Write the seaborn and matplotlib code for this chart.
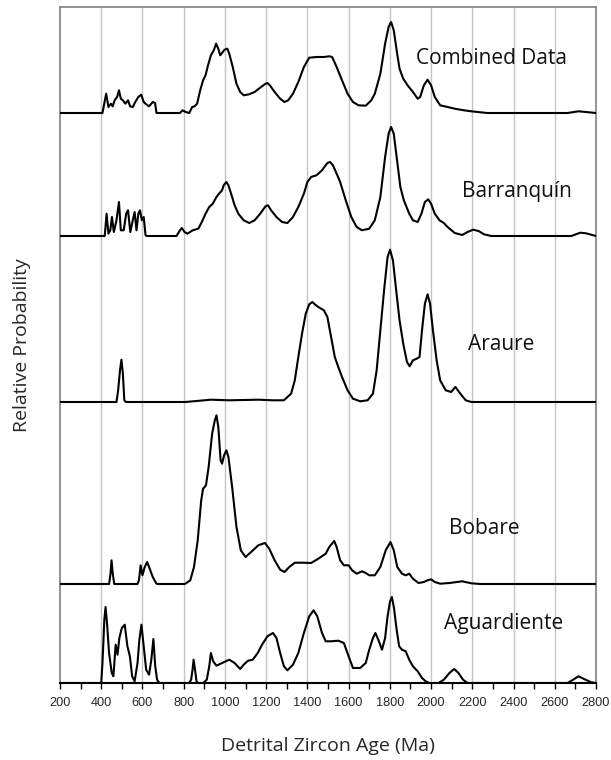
import matplotlib
matplotlib.use("Agg")
import matplotlib.pyplot as plt
from matplotlib.ticker import MultipleLocator
import pandas as pd
import seaborn as sns

# probability curves (age in Ma, relative height)
combined_age = [200, 406, 424, 435, 447, 456, 465, 477, 486, 495, 505, 517, 530, 540, 553, 565, 580, 594, 606, 618,
                632, 650, 661, 668, 782, 795, 809, 827, 841, 853, 865, 880, 894, 906, 918, 932, 946, 957, 968, 977,
                986, 998, 1012, 1021, 1038, 1056, 1074, 1091, 1118, 1144, 1171, 1197, 1206, 1218, 1241, 1268, 1289,
                1307, 1330, 1356, 1383, 1409, 1444, 1480, 1506, 1520, 1542, 1568, 1595, 1621, 1648, 1683, 1710, 1727,
                1754, 1777, 1794, 1806, 1819, 1833, 1847, 1865, 1886, 1912, 1935, 1947, 1965, 1983, 2000, 2018, 2044,
                2080, 2115, 2159, 2195, 2239, 2274, 2662, 2715, 2751, 2800]
combined_prob = [0, 0, 19.3, 6, 9.3, 6.7, 12.7, 16, 22.7, 14.3, 12.7, 9.3, 12.7, 6.7, 6, 11, 16, 18.3, 11, 8.7,
                 6.7, 11, 10, 0, 0, 2.7, 1, 0, 6, 6.7, 9.3, 22.7, 32.7, 37.7, 47.7, 57.7, 62.7, 69.3, 64.3, 57.7,
                 60, 63.3, 64.3, 59.3, 46, 29.3, 21, 17.7, 18.7, 21, 25.3, 29.3, 30, 27.7, 21, 14.3, 11,
                 12.7, 19.3, 31, 46, 55.3, 56, 56, 56.7, 56, 46, 32.7, 19.3, 11, 7.7, 7.3, 12.7, 19.3,
                 39.3, 69.3, 86, 91, 82.7, 62.7, 44.3, 34.3, 27.7, 21, 14.3, 16, 27.7, 33.3, 27.7, 16, 7.7,
                 6, 4.3, 2.7, 1.7, 0.7, 0, 0, 1.7, 1, 0]

barranquin_age = [200, 412, 417, 426, 435, 444, 452, 461, 474, 486, 495, 509, 521, 530, 541, 553, 562, 571, 580, 588,
                  597, 606, 615, 620, 765, 782, 791, 804, 818, 844, 871, 888, 906, 924, 941, 959, 971, 986, 994, 1007,
                  1017, 1030, 1047, 1065, 1091, 1118, 1144, 1171, 1197, 1209, 1224, 1250, 1277, 1303, 1330, 1356, 1383,
                  1400, 1418, 1444, 1471, 1497, 1510, 1524, 1542, 1559, 1586, 1613, 1639, 1665, 1700, 1727, 1754, 1777,
                  1794, 1806, 1819, 1833, 1851, 1868, 1894, 1912, 1935, 1953, 1970, 1986, 2000, 2018, 2041, 2062, 2080,
                  2115, 2151, 2177, 2204, 2230, 2257, 2292, 2680, 2724, 2751, 2800]
barranquin_prob = [0, 0, 0, 22.3, 2.3, 5.7, 19, 4, 15.7, 34, 5.7, 5.7, 22.3, 25.7, 4, 15.7, 24, 5.7, 22.3, 25.7,
                   15.7, 19, 0.7, 0, 0, 5.7, 8, 4, 2.3, 5.7, 7.3, 14, 22.3, 29, 32.3, 39, 42.3, 45.7, 50.7, 54,
                   50.7, 42.3, 30.7, 22.3, 15.7, 13, 15.7, 22.3, 29.7, 30.7, 25.7, 19, 14, 13, 19, 29, 42.3,
                   54, 59, 60.7, 65.7, 73, 74, 70.7, 62.3, 54, 35.7, 19, 9, 5.7, 7.3, 15.7, 39, 79,
                   102.3, 109, 102.3, 79, 49, 35.7, 22.3, 15.7, 14, 22.3, 34, 36.7, 32.3, 22.3, 15.7, 13, 9,
                   3, 1, 4, 6.3, 5, 1.7, 0, 0, 3.3, 2.7, 0]

araure_age = [200, 474, 482, 491, 498, 505, 512, 520, 809, 862, 932, 1021, 1162, 1232, 1286, 1321, 1339, 1356, 1374,
              1392, 1409, 1424, 1436, 1453, 1480, 1497, 1515, 1533, 1550, 1568, 1595, 1621, 1656, 1692, 1718, 1736,
              1754, 1772, 1789, 1801, 1815, 1829, 1847, 1865, 1883, 1896, 1912, 1930, 1944, 1956, 1970, 1983, 1995,
              2009, 2027, 2044, 2071, 2097, 2118, 2142, 2168, 2195, 2800]
araure_prob = [0, 0, 11.7, 31.7, 42.3, 28.3, 1.7, 0, 0, 1, 2.3, 1.7, 2.3, 1.7, 1.7, 8.3, 21.7, 45, 68.3,
               88.3, 97.7, 100, 97.7, 95, 91.7, 85, 65, 45, 35, 25, 11.7, 3.3, 0.7, 1.7, 8.3, 31.7,
               71.7, 111.7, 145, 152.3, 141.7, 115, 81.7, 58.3, 40, 35.7, 41.7, 43.3, 45, 71.7, 98.3, 107.7, 98.3,
               71.7, 41.7, 21.7, 11.7, 10, 15, 8.3, 1.7, 0, 0]

bobare_age = [200, 438, 445, 450, 456, 463, 576, 583, 591, 600, 611, 623, 632, 650, 668, 676, 806, 832, 850, 868,
              885, 894, 908, 921, 938, 951, 959, 968, 979, 986, 996, 1007, 1017, 1035, 1056, 1077, 1100, 1127, 1162,
              1194, 1215, 1241, 1268, 1289, 1312, 1339, 1374, 1418, 1453, 1489, 1506, 1530, 1542, 1559, 1577, 1600,
              1617, 1639, 1665, 1683, 1700, 1727, 1754, 1780, 1803, 1819, 1836, 1859, 1877, 1894, 1912, 1939, 1965,
              1983, 2000, 2018, 2044, 2089, 2151, 2195, 2239, 2800]
bobare_prob = [0, 0, 10.3, 23.7, 10.3, 0, 0, 3.7, 18.7, 8.7, 17, 22, 17, 7, 0.3, 0, 0, 3.7, 17, 43.7,
               83.7, 95.3, 98.7, 117, 150.3, 163.7, 168.7, 157, 123.7, 120.3, 128.7, 133.7, 127, 97, 57, 33.7, 27, 32, 38.7,
               41, 35.3, 23.7, 14.3, 12, 17, 21.3, 21.3, 21, 25.3, 30.3, 37, 43, 37, 23.7, 18.7, 18.7,
               13.7, 10.3, 12.7, 11, 8.7, 8.7, 17, 33.7, 42, 33.7, 17, 10.3, 8.7, 10.3, 5.3, 1, 2,
               3.7, 4.7, 2, 0.3, 1, 2.7, 0.7, 0, 0]

aguardiente_age = [200, 400, 406, 415, 421, 428, 438, 451, 459, 470, 479, 488, 500, 514, 527, 539, 550, 562, 576, 585,
                   595, 606, 618, 632, 643, 653, 662, 671, 682, 827, 836, 843, 848, 855, 862, 869, 894, 912, 924, 932,
                   943, 959, 986, 1021, 1047, 1074, 1091, 1112, 1135, 1159, 1180, 1206, 1233, 1250, 1268, 1286, 1303,
                   1330, 1356, 1383, 1409, 1430, 1448, 1471, 1489, 1515, 1550, 1577, 1600, 1621, 1656, 1683, 1700, 1718,
                   1730, 1744, 1762, 1777, 1789, 1801, 1810, 1820, 1833, 1845, 1859, 1877, 1894, 1912, 1935, 1956, 1974,
                   1991, 2036, 2062, 2089, 2112, 2133, 2155, 2177, 2662, 2689, 2715, 2742, 2777, 2800]
aguardiente_prob = [0, 0, 20, 63.3, 76, 60, 30, 10, 6.7, 38.3, 28.3, 45, 55, 58.3, 36.7, 26.7, 6.7, 1.7, 20, 43.3,
                    58.3, 36.7, 13.3, 8.3, 23.3, 44, 16.7, 3.3, 0, 0, 3.3, 13.3, 23.3, 13.3, 1.7, 0, 0, 3.3, 16.7, 30,
                    21.7, 17.3, 20, 23.3, 20, 14, 18.3, 22.3, 23.3, 30, 38.3, 46.7, 50, 45, 30, 16.7, 12.7,
                    18.3, 30, 50, 66.7, 72.7, 66.7, 50, 41.7, 41.7, 42.3, 40, 26.7, 15, 15, 20, 33.3, 45,
                    50, 43.3, 33.3, 45, 66.7, 81.7, 86, 75, 53.3, 36.7, 33.3, 31.7, 23.3, 16.7, 11.7, 5, 1.7,
                    0, 0, 3.3, 10, 14, 10, 3.3, 0, 0, 3.3, 6.7, 4, 0.7, 0]

sample_names = ["Combined Data", "Barranquín", "Araure", "Bobare", "Aguardiente"]
ages = [combined_age, barranquin_age, araure_age, bobare_age, aguardiente_age]
probs = [combined_prob, barranquin_prob, araure_prob, bobare_prob, aguardiente_prob]

# layout: vertical offset of each curve, label anchor (age, height)
offsets = [570, 447, 281, 99, 0]
label_pos = [(2291, 625), (2415, 491), (2341, 339), (2256, 155), (2353, 60)]

sns.set_style("white")
label_font = ["Open Sans", "DejaVu Sans"]
tick_font = ["Liberation Sans", "DejaVu Sans"]

fig = plt.figure(figsize=(6.11, 7.60), dpi=100)
ax = fig.add_axes([60 / 611, 77 / 760, 536 / 611, 676 / 760])

frames = []
for name, a, p, off in zip(sample_names, ages, probs, offsets):
    frames.append(pd.DataFrame({"age": a, "y": [v + off for v in p], "sample": name}))
df = pd.concat(frames, ignore_index=True)

# gridlines every 200 Ma
for g in range(400, 2800, 200):
    ax.axvline(g, color="#c4c4c4", lw=1.0, zorder=0)

for name in sample_names:
    sns.lineplot(data=df[df["sample"] == name], x="age", y="y", color="black", lw=1.5,
                 estimator=None, sort=False, ax=ax, zorder=3)

for name, (x, y) in zip(sample_names, label_pos):
    ax.text(x, y, name, ha="center", va="center", fontsize=15, family=label_font, color="#111111")

ax.set_xlim(200, 2800)
ax.set_ylim(0, 676)
ax.xaxis.set_major_locator(MultipleLocator(200))
ax.xaxis.set_minor_locator(MultipleLocator(100))
ax.set_yticks([])
ax.tick_params(axis="x", which="both", direction="out", length=4, width=1, color="black",
               bottom=True, pad=6, labelsize=9.2)
for lbl in ax.get_xticklabels():
    lbl.set_family(tick_font)

for side in ["top", "left", "right"]:
    ax.spines[side].set_color("#8a8a8a")
    ax.spines[side].set_linewidth(1.3)
ax.spines["bottom"].set_color("black")
ax.spines["bottom"].set_linewidth(1.5)

ax.set_xlabel("Detrital Zircon Age (Ma)", fontsize=14, family=label_font, labelpad=20)
ax.set_ylabel("Relative Probability", fontsize=14, family=label_font, labelpad=21)

fig.savefig("out.png", dpi=100)
